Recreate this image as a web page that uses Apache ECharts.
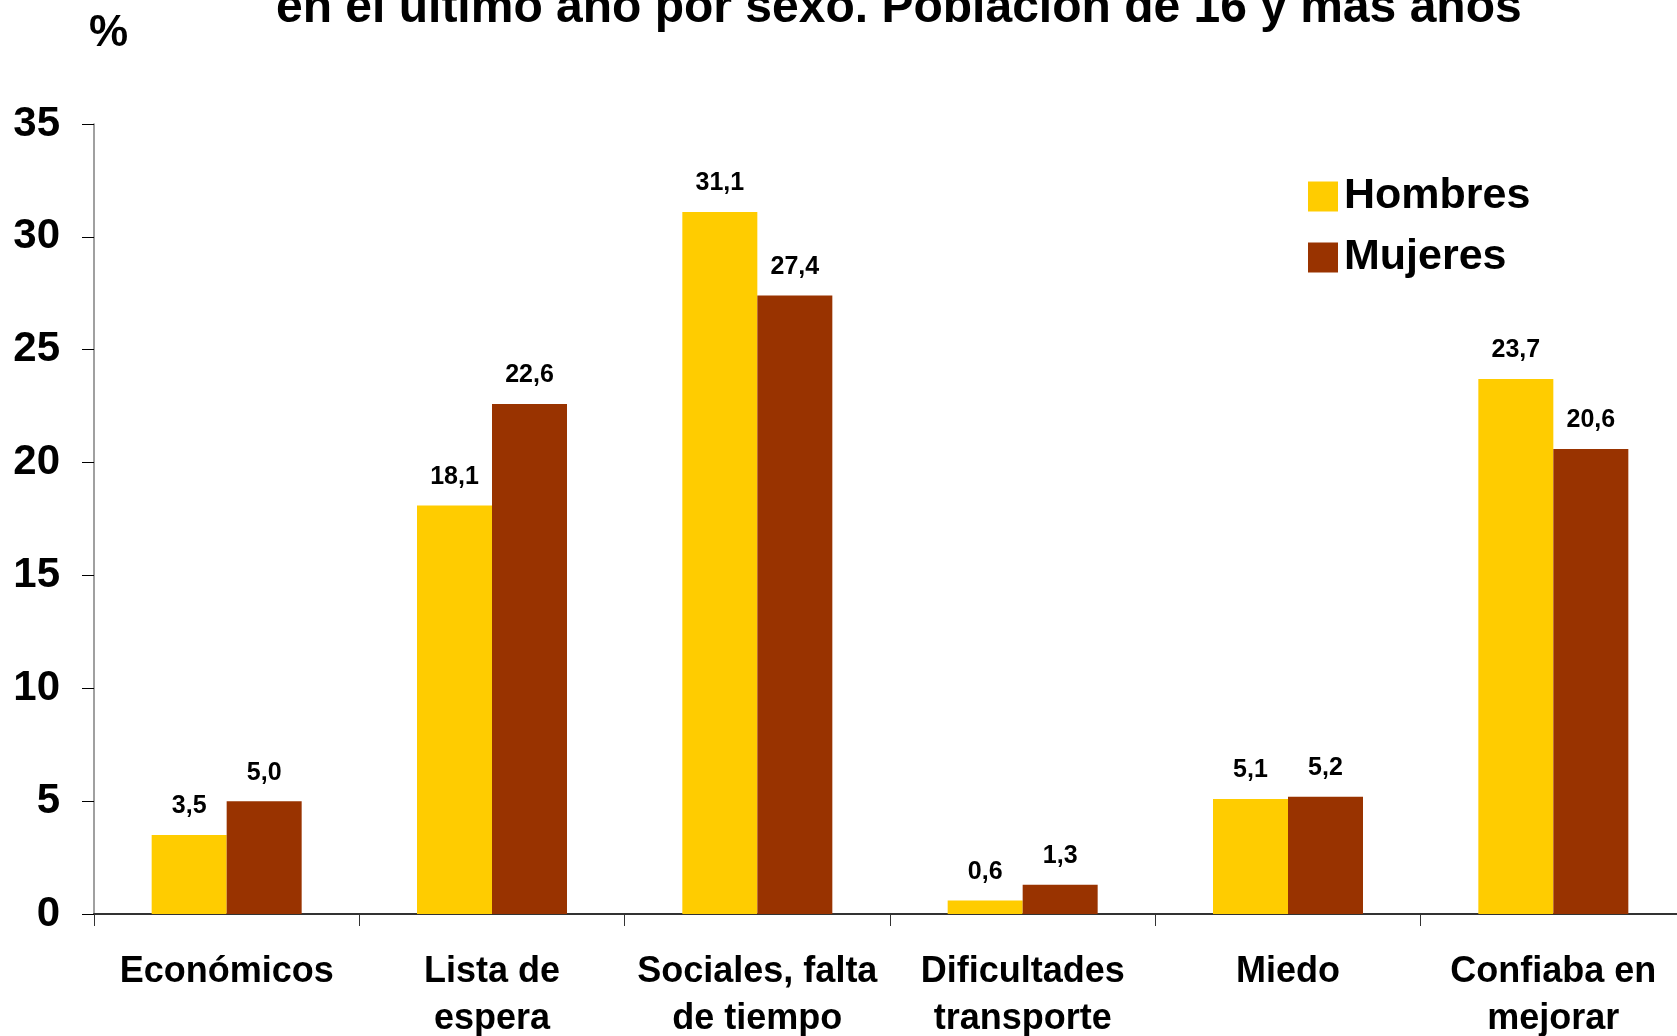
<!DOCTYPE html>
<html>
<head>
<meta charset="utf-8">
<script src="https://cdn.jsdelivr.net/npm/echarts@6/dist/echarts.min.js"></script>
<style>
  html, body { margin: 0; padding: 0; background: #fff; }
  #chart { width: 1677px; height: 1036px; }
</style>
</head>
<body>
<div id="chart"></div>
<script>
    var categorias = ['Económicos', 'Lista de\nespera', 'Sociales, falta\nde tiempo', 'Dificultades\ntransporte', 'Miedo', 'Confiaba en\nmejorar'];
    var hombres = [3.5, 18.1, 31.1, 0.6, 5.1, 23.7];
    var mujeres = [5.0, 22.6, 27.4, 1.3, 5.2, 20.6];
    var ticksY = [0, 5, 10, 15, 20, 25, 30, 35];

    var fuente = 'Liberation Sans, Arial, sans-serif';

    var chart = echarts.init(document.getElementById('chart'));

    // etiqueta con coma decimal
    function etiqueta(p) {
        return p.value.toFixed(1).replace('.', ',');
    }

    var option = {
        backgroundColor: '#fff',
        animation: false,
        title: {
            text: 'en el último año por sexo. Población de 16 y más años',
            left: 276,
            top: -15,
            padding: 0,
            textStyle: {
                fontFamily: fuente,
                fontWeight: 'bold',
                fontSize: 48,
                lineHeight: 48,
                color: '#000'
            }
        },
        graphic: [{
            type: 'text',
            left: 89,
            top: 12,
            style: {
                text: '%',
                font: 'bold 44px ' + fuente,
                fill: '#000'
            }
        }],
        legend: {
            data: ['Hombres', 'Mujeres'],
            orient: 'vertical',
            left: 1308,
            top: 175,
            padding: 0,
            itemWidth: 30,
            itemHeight: 30,
            itemGap: 18,
            icon: 'rect',
            textStyle: {
                fontFamily: fuente,
                fontWeight: 'bold',
                fontSize: 43,
                color: '#000',
                padding: [0, 0, 0, 1]
            }
        },
        grid: {
            left: 94,
            width: 1592,
            top: 124,
            bottom: 122,
            containLabel: false,
            outerBoundsMode: 'none'
        },
        xAxis: {
            type: 'category',
            data: categorias,
            axisLine: { lineStyle: { color: '#333', width: 2 } },
            axisTick: { show: true, length: 12, lineStyle: { color: '#333', width: 1 } },
            axisLabel: {
                margin: 35,
                interval: 0,
                fontFamily: fuente,
                fontWeight: 'bold',
                fontSize: 36,
                lineHeight: 47,
                color: '#000'
            }
        },
        yAxis: {
            type: 'value',
            min: ticksY[0],
            max: ticksY[ticksY.length - 1],
            interval: 5,
            splitLine: { show: false },
            axisLine: { show: true, lineStyle: { color: '#808080', width: 1.5 } },
            axisTick: { show: true, length: 12, lineStyle: { color: '#000', width: 1 } },
            axisLabel: {
                margin: 34,
                fontFamily: fuente,
                fontWeight: 'bold',
                fontSize: 42,
                color: '#000'
            }
        },
        series: [{
            name: 'Hombres',
            type: 'bar',
            data: hombres,
            barWidth: 75,
            barGap: '0%',
            itemStyle: { color: '#FFCC00' },
            label: {
                show: true,
                position: 'top',
                distance: 16,
                formatter: etiqueta,
                fontFamily: fuente,
                fontWeight: 'bold',
                fontSize: 25,
                color: '#000'
            }
        }, {
            name: 'Mujeres',
            type: 'bar',
            data: mujeres,
            barWidth: 75,
            barGap: '0%',
            itemStyle: { color: '#993300' },
            label: {
                show: true,
                position: 'top',
                distance: 16,
                formatter: etiqueta,
                fontFamily: fuente,
                fontWeight: 'bold',
                fontSize: 25,
                color: '#000'
            }
        }]
    };

    chart.setOption(option);
</script>
</body>
</html>
